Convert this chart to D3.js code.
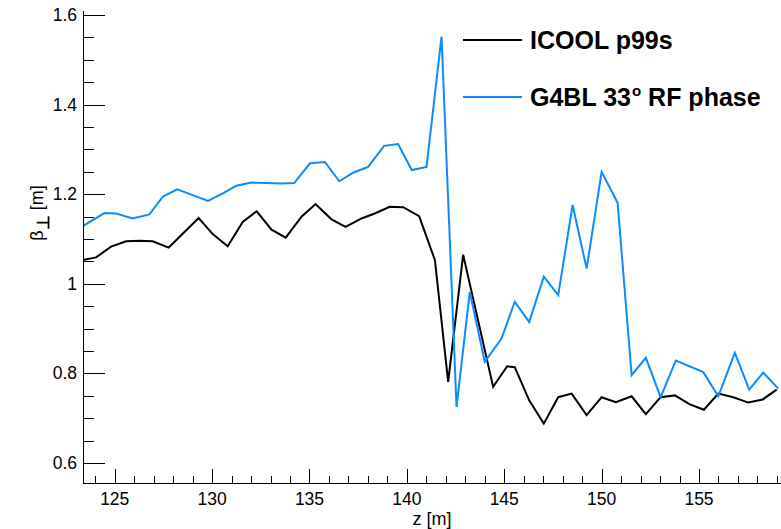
<!DOCTYPE html>
<html>
<head>
<meta charset="utf-8">
<script src="https://cdn.jsdelivr.net/npm/d3@7"></script>
<style>
  html, body { margin: 0; padding: 0; background: #fff; }
  svg { display: block; font-family: "Liberation Sans", Arial, Helvetica, sans-serif; }
</style>
</head>
<body>
<div id="chart"></div>
<script>
// beta_perp along the channel
const zIcool = [123.36, 124.04, 124.81, 125.58, 126.27, 126.95, 127.77, 129.31, 130.03, 130.80,
  131.57, 132.29, 133.05, 133.78, 134.59, 135.31, 136.13, 136.85, 137.67, 138.35,
  139.12, 139.81, 140.63, 141.44, 142.12, 142.89, 144.43, 145.15, 145.54, 146.28,
  147.03, 147.77, 148.46, 149.23, 150.00, 150.73, 151.54, 152.27, 153.03, 153.76,
  154.53, 155.25, 155.99, 156.76, 157.53, 158.27, 158.99]
const betaIcool = [1.053, 1.059, 1.083, 1.095, 1.096, 1.095, 1.081, 1.147, 1.111, 1.084,
  1.138, 1.162, 1.121, 1.103, 1.150, 1.178, 1.144, 1.127, 1.146, 1.157,
  1.172, 1.171, 1.151, 1.053, 0.781, 1.065, 0.770, 0.816, 0.814, 0.740,
  0.688, 0.747, 0.755, 0.707, 0.747, 0.736, 0.749, 0.709, 0.747, 0.751,
  0.731, 0.719, 0.755, 0.747, 0.735, 0.742, 0.764]

const zG4bl = [123.36, 124.47, 125.07, 125.92, 126.78, 127.48, 128.21, 129.00, 129.79, 130.55,
  131.24, 132.01, 132.79, 133.54, 134.22, 135.02, 135.79, 136.53, 137.24, 138.01,
  138.83, 139.55, 140.25, 141.01, 141.78, 142.55, 143.23, 144.00, 144.86, 145.54,
  146.28, 147.03, 147.77, 148.51, 149.23, 150.00, 150.82, 151.54, 152.27, 153.03,
  153.81, 155.22, 155.99, 156.84, 157.58, 158.30, 159.07]
const betaG4bl = [1.129, 1.158, 1.157, 1.146, 1.155, 1.195, 1.211, 1.198, 1.185, 1.202,
  1.219, 1.226, 1.225, 1.224, 1.225, 1.269, 1.272, 1.229, 1.248, 1.261,
  1.308, 1.312, 1.254, 1.261, 1.552, 0.725, 0.982, 0.826, 0.878, 0.960,
  0.915, 1.016, 0.975, 1.176, 1.034, 1.250, 1.181, 0.796, 0.835, 0.747,
  0.829, 0.803, 0.749, 0.846, 0.764, 0.802, 0.766]

const xTicks = [125, 130, 135, 140, 145, 150, 155]
const xMinor = d3.range(124, 160, 1)
const yTicks = [0.6, 0.8, 1.0, 1.2, 1.4, 1.6]
const yMinor = d3.range(0.6, 1.6001, 0.05)

const series = [
  { name: "ICOOL p99s", z: zIcool, beta: betaIcool, color: "#000000" },
  { name: "G4BL 33", z: zG4bl, beta: betaG4bl, color: "#0a8cff" }
]

const W = 781, H = 529
const mLeft = 83, mRight = 781, mTop = 11, mBottom = 483

const x = d3.scaleLinear().domain([123.37, 159.21]).range([mLeft, mRight])
const y = d3.scaleLinear().domain([0.5555, 1.609]).range([mBottom, mTop])

const svg = d3.select("#chart").append("svg")
  .attr("width", W)
  .attr("height", H)

svg.append("defs").append("clipPath").attr("id", "plotclip")
  .append("rect")
  .attr("x", mLeft).attr("y", mTop)
  .attr("width", mRight - mLeft).attr("height", mBottom - mTop)

// lines
const line = d3.line()
  .x(d => x(d[0]))
  .y(d => y(d[1]))

const lines = svg.append("g").attr("clip-path", "url(#plotclip)")
series.forEach(s => {
  lines.append("path")
    .datum(d3.zip(s.z, s.beta))
    .attr("fill", "none")
    .attr("stroke", s.color)
    .attr("stroke-width", 2)
    .attr("stroke-linejoin", "miter")
    .attr("d", line)
})

// axes, ROOT style: ticks pointing inside
const ax = svg.append("g").attr("stroke", "#000").attr("stroke-width", 1)
ax.append("line").attr("x1", mLeft + 0.5).attr("x2", mLeft + 0.5).attr("y1", mTop).attr("y2", mBottom + 1)
ax.append("line").attr("x1", mLeft).attr("x2", mRight).attr("y1", mBottom + 0.5).attr("y2", mBottom + 0.5)

ax.selectAll(".xmin").data(xMinor).join("line")
  .attr("x1", d => Math.round(x(d)) + 0.5).attr("x2", d => Math.round(x(d)) + 0.5)
  .attr("y1", mBottom).attr("y2", d => xTicks.includes(d) ? mBottom - 14 : mBottom - 7)

ax.selectAll(".ymin").data(yMinor).join("line")
  .attr("y1", d => Math.round(y(d)) + 0.5).attr("y2", d => Math.round(y(d)) + 0.5)
  .attr("x1", mLeft)
  .attr("x2", d => yTicks.some(t => Math.abs(t - d) < 1e-6) ? mLeft + 22 : mLeft + 11)

svg.append("g").selectAll("text").data(xTicks).join("text")
  .attr("x", d => x(d))
  .attr("y", 505)
  .attr("text-anchor", "middle")
  .attr("font-size", 17.5)
  .attr("fill", "#000")
  .text(d => d)

svg.append("g").selectAll("text").data(yTicks).join("text")
  .attr("x", 77)
  .attr("y", d => y(d) + 6)
  .attr("text-anchor", "end")
  .attr("font-size", 17.5)
  .attr("fill", "#000")
  .text(d => String(+d.toFixed(1)))

// axis titles
svg.append("text")
  .attr("x", (mLeft + mRight) / 2)
  .attr("y", 525)
  .attr("text-anchor", "middle")
  .attr("font-size", 18)
  .text("z [m]")

const yt = svg.append("text")
  .attr("transform", "translate(43,213) rotate(-90)")
  .attr("text-anchor", "middle")
  .attr("font-size", 18)
yt.append("tspan").text("β")
yt.append("tspan").attr("dy", 6).attr("font-size", 17).attr("font-weight", "bold").text("⊥")
yt.append("tspan").attr("dy", -6).text(" [m]")

// legend
const legendY = [40, 97]
const leg = svg.append("g")
series.forEach((s, i) => {
  leg.append("line")
    .attr("x1", 463).attr("x2", 522)
    .attr("y1", legendY[i]).attr("y2", legendY[i])
    .attr("stroke", s.color).attr("stroke-width", 2)
})
leg.append("text")
  .attr("x", 530).attr("y", legendY[0] + 9)
  .attr("font-size", 25).attr("font-weight", "bold")
  .text("ICOOL p99s")
const t2 = leg.append("text")
  .attr("x", 530).attr("y", legendY[1] + 9)
  .attr("font-size", 25).attr("font-weight", "bold")
t2.append("tspan").text("G4BL 33")
t2.append("tspan").attr("dx", 1).attr("dy", -10).attr("font-size", 15).text("o")
t2.append("tspan").attr("dy", 10).text(" RF phase")
</script>
</body>
</html>
